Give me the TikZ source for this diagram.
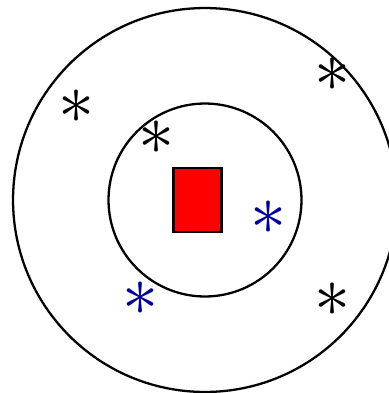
\documentclass[tikz,border=0pt]{standalone}
\usepackage{amsmath,amssymb}
\usepackage{tikz}
\usetikzlibrary{positioning}
\definecolor{ringblue}{HTML}{0000A0}
\definecolor{boxred}{HTML}{FF0000}
\newcommand{\bigast}{\scalebox{1.65}{$\ast$}}
\tikzset{
    ring/.style={circle,draw,line width=1.3pt,inner sep=0pt},
    astk/.style={inner sep=0pt,font=\Huge},
    bluestk/.style={astk,text=ringblue},
    redbox/.style={draw,line width=1.2pt,fill=boxred,inner sep=0pt,minimum width=0.96cm,minimum height=1.28cm},
}
\begin{document}
\begin{tikzpicture}[x=0.02cm,y=-0.02cm]
    \useasboundingbox (0,0) rectangle (389,393);
    \node[ring,minimum size=7.68cm] (outer) at (205,200) {};
    \node[ring,minimum size=3.86cm] (inner) at (205,200) {};
    \node[redbox] (box) at (197.5,200) {};

    \node[astk] (a1) at (77,107) {\bigast};
    \node[astk] (a2) at (333,75) {\bigast};
    \node[astk] (a3) at (157,138) {\bigast};
    \node[astk] (a4) at (333,300) {\bigast};
    \node[bluestk] (b1) at (269,218) {\bigast};
    \node[bluestk] (b2) at (141,299) {\bigast};
\end{tikzpicture}
\end{document}
